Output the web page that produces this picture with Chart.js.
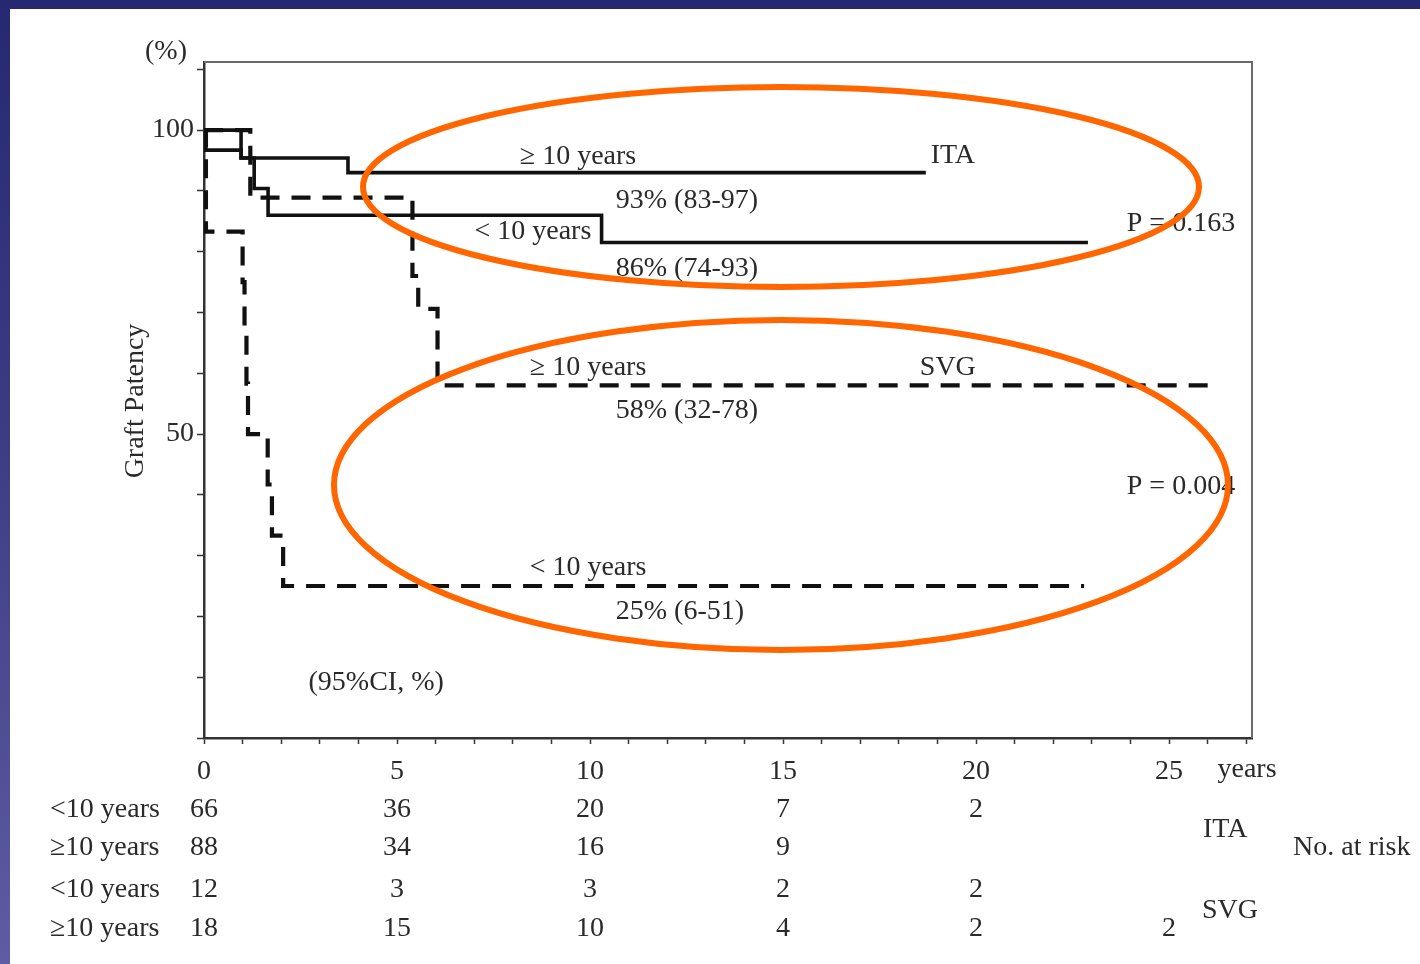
<!DOCTYPE html>
<html>
<head>
<meta charset="utf-8">
<title>Graft Patency</title>
<script src="https://cdn.jsdelivr.net/npm/chart.js@4.4.1/dist/chart.umd.min.js"></script>
<style>
  html, body { margin: 0; padding: 0; background: #ffffff; }
  body { width: 1420px; height: 964px; position: relative; overflow: hidden; }
  #topBand { position: absolute; left: 0; top: 0; width: 1420px; height: 9px; background: #262872; }
  #leftBand { position: absolute; left: 0; top: 0; width: 10px; height: 964px;
              background: linear-gradient(to bottom, #262872 0%, #3c3c85 45%, #5e5ca2 100%); }
  #chart { position: absolute; left: 0; top: 0; }
</style>
</head>
<body>
<div id="topBand"></div>
<div id="leftBand"></div>
<canvas id="chart" width="1420" height="964"></canvas>
<script>
// Kaplan-Meier steps (years, % patent)
const itaUnder10Years   = [0, 0.05, 0.96, 1.3, 1.66, 10.3, 22.9];
const itaUnder10Patency = [100, 96.7, 95.4, 90.4, 86, 81.5, 81.5];

const itaOver10Years    = [0, 0.96, 3.73, 18.7];
const itaOver10Patency  = [100, 95.4, 93, 93];

const svgUnder10Years   = [0, 0.05, 1.0, 1.05, 1.1, 1.14, 1.65, 1.76, 2.05, 22.8];
const svgUnder10Patency = [100, 83.3, 75, 66.7, 58.3, 50, 41.7, 33.3, 25, 25];

const svgOver10Years    = [0, 1.2, 5.4, 5.55, 6.05, 26.2];
const svgOver10Patency  = [100, 88.9, 76, 70.6, 58, 58];

// Axis ticks
const xTickValues = [0,1,2,3,4,5,6,7,8,9,10,11,12,13,14,15,16,17,18,19,20,21,22,23,24,25,26,27];
const xTickLabels = [0, 5, 10, 15, 20, 25];
const yTickValues = [0,10,20,30,40,50,60,70,80,90,100,110];
const yTickLabels = [50, 100];

// Number at risk
const riskTimes      = [0, 5, 10, 15, 20, 25];
const riskRowLabels  = ['<10 years', '≥10 years', '<10 years', '≥10 years'];
const riskItaUnder10 = [66, 36, 20, 7, 2, null];
const riskItaOver10  = [88, 34, 16, 9, null, null];
const riskSvgUnder10 = [12, 3, 3, 2, 2, null];
const riskSvgOver10  = [18, 15, 10, 4, 2, 2];

// In-plot annotations: [text, years, percent]
const notes = [
  ['≥ 10 years', 9.69, 95.9],
  ['ITA', 19.4, 96.2],
  ['93% (83-97)', 12.51, 88.8],
  ['< 10 years', 8.52, 83.7],
  ['P = 0.163', 25.31, 85.0],
  ['86% (74-93)', 12.51, 77.5],
  ['≥ 10 years', 9.95, 61.2],
  ['SVG', 19.27, 61.2],
  ['58% (32-78)', 12.51, 54.1],
  ['P = 0.004', 25.31, 41.6],
  ['< 10 years', 9.95, 28.3],
  ['25% (6-51)', 12.33, 21.1],
  ['(95%CI, %)', 4.46, 9.5]
];

const SERIF = '"Liberation Serif", "DejaVu Serif", serif';
const INK = '#2a2a2a';
const FONT_SIZE = 28;
const TEXT_NUDGE = 2; // serif glyphs sit slightly high on a 'middle' baseline
const toPoints = (xs, ys) => xs.map((x, i) => ({ x: x, y: ys[i] }));

const curve = (label, xs, ys, dashed) => ({
  label: label,
  data: toPoints(xs, ys),
  stepped: 'before',
  borderColor: '#111111',
  borderWidth: dashed ? 4.2 : 3.6,
  borderDash: dashed ? [19, 12] : [],
  borderCapStyle: 'butt',
  borderJoinStyle: 'miter',
  pointRadius: 0,
  fill: false,
  tension: 0
});

const decorations = {
  id: 'decorations',
  afterDraw(chart) {
    const ctx = chart.ctx;
    const xs = chart.scales.x, ys = chart.scales.y;
    const area = chart.chartArea;
    ctx.save();

    // frame: top and right sides
    ctx.strokeStyle = '#6a6a6a';
    ctx.lineWidth = 2;
    ctx.beginPath();
    ctx.moveTo(area.left, area.top);
    ctx.lineTo(area.right, area.top);
    ctx.lineTo(area.right, area.bottom);
    ctx.stroke();

    ctx.fillStyle = INK;
    ctx.font = FONT_SIZE + 'px ' + SERIF;
    ctx.textBaseline = 'middle';
    ctx.textAlign = 'center';
    const text = (s, x, y) => ctx.fillText(s, x, y + TEXT_NUDGE);

    notes.forEach(n => {
      text(n[0], xs.getPixelForValue(n[1]), ys.getPixelForValue(n[2]));
    });

    // axis captions
    text('(%)', 166, 50);
    text('years', 1247, 768);
    ctx.save();
    ctx.translate(134 + TEXT_NUDGE, 401);
    ctx.rotate(-Math.PI / 2);
    ctx.fillText('Graft Patency', 0, 0);
    ctx.restore();

    // number-at-risk table
    const rows = [riskItaUnder10, riskItaOver10, riskSvgUnder10, riskSvgOver10];
    const rowY = [808, 846, 888, 927];
    rows.forEach((row, r) => {
      ctx.textAlign = 'left';
      text(riskRowLabels[r], 50, rowY[r]);
      ctx.textAlign = 'center';
      row.forEach((v, i) => {
        if (v !== null) text(String(v), xs.getPixelForValue(riskTimes[i]), rowY[r]);
      });
    });
    ctx.textAlign = 'left';
    text('ITA', 1203, 828);
    text('SVG', 1202, 909);
    text('No. at risk', 1293, 846);

    // highlight rings
    ctx.strokeStyle = '#ff6600';
    ctx.lineWidth = 6;
    ctx.beginPath();
    ctx.ellipse(781, 187, 418, 100, 0, 0, Math.PI * 2);
    ctx.stroke();
    ctx.beginPath();
    ctx.ellipse(781, 485, 447, 165, 0, 0, Math.PI * 2);
    ctx.stroke();

    ctx.restore();
  }
};

new Chart(document.getElementById('chart'), {
  type: 'line',
  data: {
    datasets: [
      curve('SVG <10 years', svgUnder10Years, svgUnder10Patency, true),
      curve('SVG ≥10 years', svgOver10Years, svgOver10Patency, true),
      curve('ITA <10 years', itaUnder10Years, itaUnder10Patency, false),
      curve('ITA ≥10 years', itaOver10Years, itaOver10Patency, false)
    ]
  },
  options: {
    responsive: false,
    animation: false,
    devicePixelRatio: 1,
    layout: { padding: { left: 0, top: 62, right: 168, bottom: 0 } },
    plugins: { legend: { display: false }, tooltip: { enabled: false } },
    scales: {
      x: {
        type: 'linear',
        min: 0,
        max: 27.15,
        afterFit(s) { s.height = 226; },
        afterBuildTicks(s) { s.ticks = xTickValues.map(v => ({ value: v })); },
        grid: { drawOnChartArea: false, drawTicks: true, tickLength: 6, tickColor: '#333333', tickWidth: 1.5 },
        border: { display: true, color: '#333333', width: 2.5 },
        ticks: {
          autoSkip: false,
          maxRotation: 0,
          padding: 11,
          color: INK,
          font: { family: SERIF, size: FONT_SIZE },
          callback: v => (xTickLabels.includes(v) ? String(v) : '')
        }
      },
      y: {
        type: 'linear',
        min: 0,
        max: 111.2,
        afterFit(s) { s.width = 204; },
        afterBuildTicks(s) { s.ticks = yTickValues.map(v => ({ value: v })); },
        grid: { drawOnChartArea: false, drawTicks: true, tickLength: 7, tickColor: '#333333', tickWidth: 1.5 },
        border: { display: true, color: '#333333', width: 2.5 },
        ticks: {
          autoSkip: false,
          padding: 3,
          color: INK,
          font: { family: SERIF, size: FONT_SIZE },
          callback: v => (yTickLabels.includes(v) ? String(v) : '')
        }
      }
    }
  },
  plugins: [decorations]
});
</script>
</body>
</html>
